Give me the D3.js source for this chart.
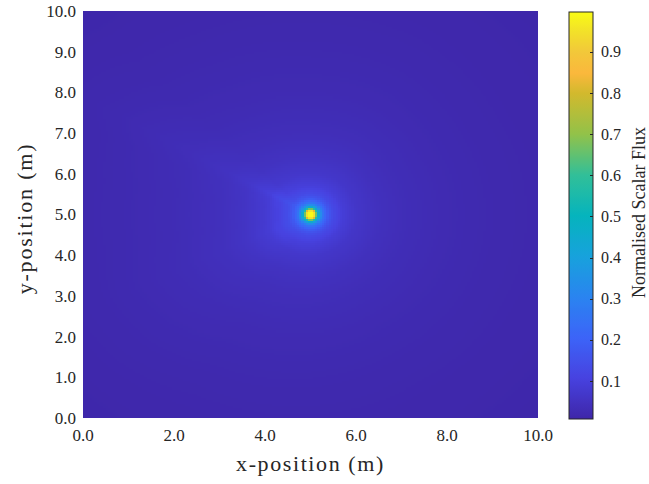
<!DOCTYPE html>
<html>
<head>
<meta charset="utf-8">
<script src="https://cdn.jsdelivr.net/npm/d3@7"></script>
<style>
  body { margin: 0; background: #fff; }
  text { font-family: "Liberation Serif", "Times New Roman", serif; fill: #262626; }
</style>
</head>
<body>
<script>
// Mesh: 200 x 200 cells over a 10 m x 10 m domain, point source at the centre
const nCells = 200;
const domainSize = 10;
const sourcePos = [5.0, 5.0];

// Radial flux profile (distance from source in m -> normalised flux)
const profileRadius = [0, 0.035, 0.08, 0.106, 0.13, 0.16, 0.2, 0.25, 0.3, 0.4, 0.5, 0.7, 1.0, 1.5, 2.0, 3.0, 4.0, 5.0, 7.5];
const profileFlux   = [1.0, 1.0, 0.95, 0.82, 0.65, 0.5, 0.38, 0.29, 0.23, 0.165, 0.13, 0.095, 0.068, 0.048, 0.037, 0.026, 0.02, 0.016, 0.01];

// Ray-effect streaks (direction in degrees, counter-clockwise from +x -> relative gain)
const streakAngle = [0, 30, 60, 90, 120, 135, 143, 150, 157, 170, 190, 205, 220, 240, 270, 300, 330, 360];
const streakGain  = [0.95, 0.95, 1.0, 1.0, 1.05, 1.12, 1.3, 1.45, 1.25, 1.15, 1.15, 1.25, 1.2, 1.05, 1.0, 0.95, 0.95, 0.95];
const streakRadius = [0, 0.3, 0.8, 4.0, 6.5];
const streakWeight = [0, 0, 1, 1, 0.3];

// Ticks
const xTickValues = [0, 2, 4, 6, 8, 10];
const yTickValues = [0, 1, 2, 3, 4, 5, 6, 7, 8, 9, 10];
const cbarTickValues = [0.1, 0.2, 0.3, 0.4, 0.5, 0.6, 0.7, 0.8, 0.9];
const fluxRange = [0.0075, 0.997];

// parula colour map
const parulaStops  = [0, 0.1, 0.2, 0.3, 0.4, 0.5, 0.6, 0.7, 0.8, 0.85, 0.9, 0.95, 1.0];
const parulaColors = ["#3e26a8", "#4742e0", "#3c64f8", "#2a84f0", "#17a2dc", "#05b4bd", "#32bf98",
                      "#92c249", "#d2b92d", "#fbb83c", "#f2c73a", "#f2e02a", "#f9fb15"];

const width = 649, height = 484;
const plot = {left: 83, right: 538, top: 11, bottom: 418};
const cbar = {left: 569, right: 593, top: 12, bottom: 419};

const svg = d3.select("body").append("svg")
    .attr("width", width)
    .attr("height", height);

const x = d3.scaleLinear().domain([0, domainSize]).range([plot.left, plot.right]);
const y = d3.scaleLinear().domain([0, domainSize]).range([plot.bottom, plot.top]);

const radial = d3.scaleLinear().domain(profileRadius).range(profileFlux).clamp(true);
const angular = d3.scaleLinear().domain(streakAngle).range(streakGain);
const streakW = d3.scaleLinear().domain(streakRadius).range(streakWeight).clamp(true);

const colorNorm = d3.scaleLinear().domain(fluxRange).range([0, 1]).clamp(true);
const parula = d3.scaleLinear().domain(parulaStops).range(parulaColors).interpolate(d3.interpolateRgb);
const color = v => parula(colorNorm(v));

// Flux field on the mesh
const cellSize = domainSize / nCells;
function fluxAt(i, j) {
    const cx = (i + 0.5) * cellSize - sourcePos[0];
    const cy = (j + 0.5) * cellSize - sourcePos[1];
    const r = Math.hypot(cx, cy);
    let ang = Math.atan2(cy, cx) * 180 / Math.PI;
    if (ang < 0) ang += 360;
    const base = radial(r);
    return base * (1 + (angular(ang) - 1) * streakW(r));
}

// Draw cells into an image, one pixel per cell
const canvas = document.createElement("canvas");
canvas.width = nCells;
canvas.height = nCells;
const ctx = canvas.getContext("2d");
const img = ctx.createImageData(nCells, nCells);
for (let j = 0; j < nCells; j++) {
    for (let i = 0; i < nCells; i++) {
        const c = d3.rgb(color(fluxAt(i, j)));
        const k = ((nCells - 1 - j) * nCells + i) * 4;
        img.data[k] = c.r;
        img.data[k + 1] = c.g;
        img.data[k + 2] = c.b;
        img.data[k + 3] = 255;
    }
}
ctx.putImageData(img, 0, 0);

svg.append("image")
    .attr("href", canvas.toDataURL())
    .attr("x", x(0))
    .attr("y", y(domainSize))
    .attr("width", x(domainSize) - x(0))
    .attr("height", y(0) - y(domainSize))
    .attr("preserveAspectRatio", "none")
    .style("image-rendering", "pixelated");

// Axes tick labels
svg.append("g")
    .selectAll("text")
    .data(xTickValues)
    .join("text")
    .attr("x", d => x(d))
    .attr("y", plot.bottom + 23)
    .attr("text-anchor", "middle")
    .style("font-size", "17px")
    .text(d => d.toFixed(1));

svg.append("g")
    .selectAll("text")
    .data(yTickValues)
    .join("text")
    .attr("x", plot.left - 7)
    .attr("y", d => y(d))
    .attr("dy", "0.35em")
    .attr("text-anchor", "end")
    .style("font-size", "17px")
    .text(d => d.toFixed(1));

// Axis titles
svg.append("text")
    .attr("x", (plot.left + plot.right) / 2)
    .attr("y", 471)
    .attr("text-anchor", "middle")
    .style("font-size", "22px")
    .style("letter-spacing", "1.6px")
    .text("x-position (m)");

svg.append("text")
    .attr("transform", `translate(32,${(plot.top + plot.bottom) / 2 + 4}) rotate(-90)`)
    .attr("text-anchor", "middle")
    .style("font-size", "22px")
    .style("letter-spacing", "1.8px")
    .text("y-position (m)");

// Colour bar
const cy = d3.scaleLinear().domain(fluxRange).range([cbar.bottom, cbar.top]);

const grad = svg.append("defs").append("linearGradient")
    .attr("id", "cbar-grad")
    .attr("x1", 0).attr("y1", 1)
    .attr("x2", 0).attr("y2", 0);
grad.selectAll("stop")
    .data(d3.range(0, 1.0001, 0.01))
    .join("stop")
    .attr("offset", d => d)
    .attr("stop-color", d => parula(d));

svg.append("rect")
    .attr("x", cbar.left)
    .attr("y", cbar.top)
    .attr("width", cbar.right - cbar.left)
    .attr("height", cbar.bottom - cbar.top)
    .attr("fill", "url(#cbar-grad)")
    .attr("stroke", "#262626")
    .attr("stroke-width", 1);

svg.append("g")
    .selectAll("line")
    .data(cbarTickValues)
    .join("line")
    .attr("x1", cbar.right - 3)
    .attr("x2", cbar.right)
    .attr("y1", d => Math.round(cy(d)) + 0.5)
    .attr("y2", d => Math.round(cy(d)) + 0.5)
    .attr("stroke", "#262626");

svg.append("g")
    .selectAll("text")
    .data(cbarTickValues)
    .join("text")
    .attr("x", cbar.right + 8)
    .attr("y", d => cy(d))
    .attr("dy", "0.35em")
    .style("font-size", "16px")
    .text(d => d.toFixed(1));

svg.append("text")
    .attr("transform", `translate(645,${(cbar.top + cbar.bottom) / 2 - 3}) rotate(-90)`)
    .attr("text-anchor", "middle")
    .style("font-size", "18px")
    .text("Normalised Scalar Flux");
</script>
</body>
</html>
